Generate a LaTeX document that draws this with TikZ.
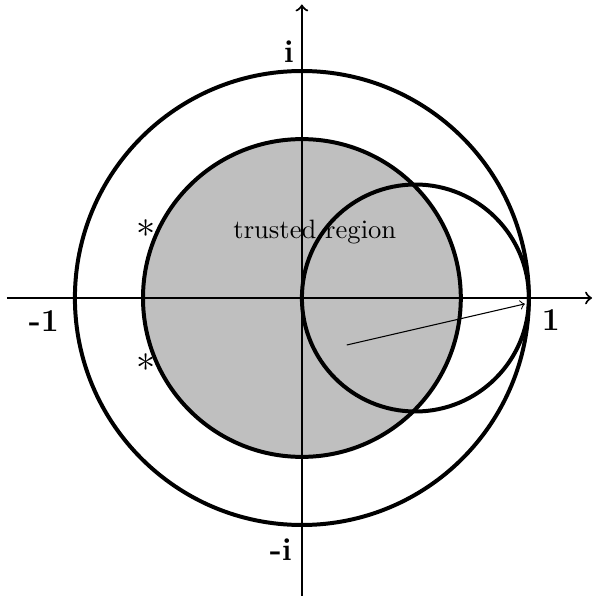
\documentclass[tikz,border=0pt]{standalone}
\begin{document}
\begin{tikzpicture}[x=3cm,y=3cm,
  axis/.style={line width=0.8pt,->},
  bigcircle/.style={line width=1.5pt},
  lab/.style={font=\large\bfseries,inner sep=0pt},
  star/.style={inner sep=0pt,font=\Large}]
\useasboundingbox (-1.330,-1.3128) rectangle (1.282,1.3128);
\coordinate (O) at (0,0);
\fill[lightgray] (O) circle (0.7);
\draw[axis] (-1.30,0) -- (1.278,0);
\draw[axis] (0,-1.32) -- (0,1.293);
\draw[bigcircle] (O) circle (1);
\draw[bigcircle] (O) circle (0.7);
\draw[bigcircle] (0.5,0) circle (0.5);
\coordinate (vs) at (0.198,-0.207);
\coordinate (ve) at (0.982,-0.026);
\draw[->,line width=0.4pt] (vs) -- (ve);
\node[lab] (li) at (-0.057,1.085) {i};
\node[lab] (lmi) at (-0.093,-1.11) {-i};
\node[lab] (lm1) at (-1.137,-0.103) {-1};
\node[lab] (l1) at (1.097,-0.095) {1};
\node (tr) at (0.057,0.29) {trusted region};
\node[star] (s1) at (-0.687,0.304) {$*$};
\node[star] (s2) at (-0.687,-0.286) {$*$};
\end{tikzpicture}
\end{document}
